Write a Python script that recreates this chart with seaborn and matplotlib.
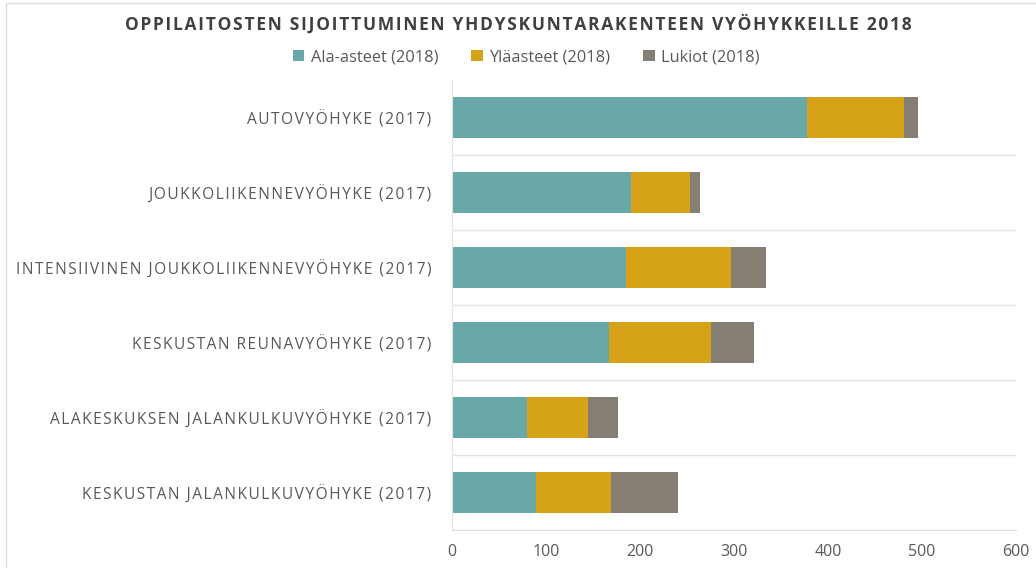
import seaborn as sns
import pandas as pd
import numpy as np
import matplotlib.pyplot as plt
from matplotlib.patches import Patch, Rectangle

# Data
zones = ['AUTOVYÖHYKE (2017)',
         'JOUKKOLIIKENNEVYÖHYKE (2017)',
         'INTENSIIVINEN JOUKKOLIIKENNEVYÖHYKE (2017)',
         'KESKUSTAN REUNAVYÖHYKE (2017)',
         'ALAKESKUKSEN JALANKULKUVYÖHYKE (2017)',
         'KESKUSTAN JALANKULKUVYÖHYKE (2017)']
ala_asteet = [378, 190, 185, 167, 80, 89]
ylaasteet = [103, 63, 112, 108, 65, 80]
lukiot = [15, 11, 37, 46, 32, 71]

series_names = ['Ala-asteet (2018)', 'Yläasteet (2018)', 'Lukiot (2018)']
colors = ['#69a8a9', '#d6a318', '#857e72']
title = 'OPPILAITOSTEN SIJOITTUMINEN YHDYSKUNTARAKENTEEN VYÖHYKKEILLE 2018'


def spaced(s):
    # rough letter spacing with hair spaces
    return '\u200a'.join(s)


df = pd.DataFrame({'zone': zones, 'ala': ala_asteet,
                   'yla': ylaasteet, 'luk': lukiot})
df['c1'] = df['ala']
df['c2'] = df['ala'] + df['yla']
df['c3'] = df['c2'] + df['luk']

sns.set_style('white')
plt.rcParams['font.family'] = ['Open Sans', 'DejaVu Sans']

fig = plt.figure(figsize=(10.36, 5.68), dpi=100)
ax = fig.add_axes([452 / 1036, 1 - 530 / 568, 564 / 1036, 450 / 568])

# stacked bars: draw cumulative totals from largest to smallest
for col, c in zip(['c3', 'c2', 'c1'], colors[::-1]):
    sns.barplot(data=df, x=col, y='zone', color=c, width=0.55,
                saturation=1, linewidth=0, ax=ax, orient='h')

ax.set_xlim(0, 600)
ax.set_ylim(5.5, -0.5)
ax.set_xticks(range(0, 601, 100))
ax.set_yticks(range(len(zones)))
ax.set_yticklabels([spaced(z) for z in zones])
ax.set_xlabel('')
ax.set_ylabel('')

# category separator lines
for yy in np.arange(0.5, 5.5, 1):
    ax.axhline(yy, color='#e4e4e4', lw=1, zorder=0)

for side in ['top', 'right']:
    ax.spines[side].set_visible(False)
ax.spines['bottom'].set_color('#dcdcdc')
ax.spines['left'].set_color('#e4e4e4')
ax.tick_params(axis='x', colors='#dcdcdc', labelcolor='#595959',
               labelsize=11.5, length=4, direction='inout', pad=8)
ax.tick_params(axis='y', colors='#595959', labelsize=11.2, length=0, pad=15)

fig.text(0.5, 1 - 24 / 568, spaced(title),
         ha='center', va='center', fontsize=12.5, fontweight='bold',
         color='#404040')

handles = [Patch(facecolor=c, edgecolor='none') for c in colors]
fig.legend(handles, series_names, loc='center',
           bbox_to_anchor=(0.508, 1 - 57 / 568), ncol=3, frameon=False,
           fontsize=11.8, labelcolor='#595959', handlelength=0.7,
           handleheight=0.7, handletextpad=0.4, columnspacing=2.0)

# light frame around the chart
fig.patches.append(Rectangle((6 / 1036, -0.01), 1.0, 1 - 3 / 568 + 0.01,
                             transform=fig.transFigure,
                             fill=False, edgecolor='#dcdcdc', lw=1))

fig.savefig('out.png', dpi=100)
